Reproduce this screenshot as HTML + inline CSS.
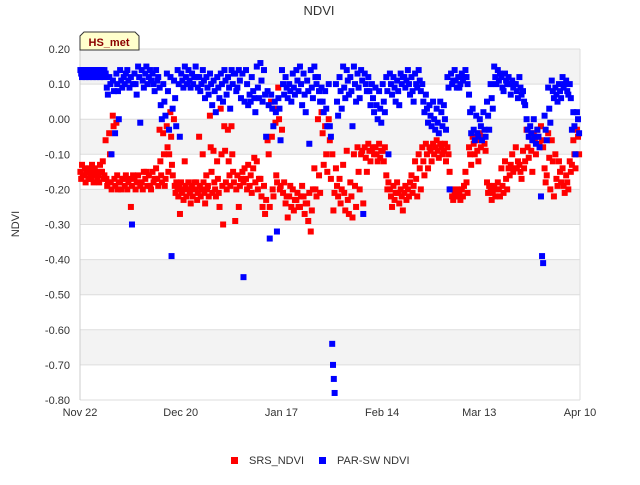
<!DOCTYPE html>
<html><head><meta charset="utf-8"><style>
body{margin:0;background:#fff;font-family:"Liberation Sans",sans-serif}
svg text{font-family:"Liberation Sans",sans-serif}
</style></head><body>
<svg id="c" width="640" height="480" xmlns="http://www.w3.org/2000/svg">
<text x="319" y="15" text-anchor="middle" font-size="13" fill="#333">NDVI</text>
<text transform="translate(19,224) rotate(-90)" text-anchor="middle" font-size="11" fill="#333">NDVI</text>
<g id="grid"></g>
<g id="pts"></g>
<g>
<path d="M84,32 L135,32 L139,36 L139,50 L80,50 L80,36 Z" fill="#ffffcc" stroke="#333" stroke-width="1"/>
<text x="109" y="46" text-anchor="middle" font-size="11" font-weight="bold" fill="#8b0000">HS_met</text>
</g>
<g>
<g><rect x="231" y="457" width="7" height="7" fill="#f00"/><text x="249" y="464" font-size="11" fill="#333">SRS_NDVI</text></g>
<g><rect x="319" y="457" width="7" height="7" fill="#00f"/><text x="337" y="464" font-size="11" fill="#333">PAR-SW NDVI</text></g>
</g>
</svg>
<script>
const yTicks=[0.2,0.1,0,-0.1,-0.2,-0.3,-0.4,-0.5,-0.6,-0.7,-0.8];
const xTickDays=[0,28,56,84,111,139];
const xTickLabels=["Nov 22","Dec 20","Jan 17","Feb 14","Mar 13","Apr 10"];
const redByDay=[
[-0.15,-0.17,-0.13,-0.16],[-0.16,-0.14,-0.18,-0.15],[-0.15,-0.17,-0.14,-0.16],[-0.17,-0.13,-0.15,-0.18],[-0.14,-0.16,-0.15,-0.17],[-0.16,-0.18,-0.13,-0.15],[-0.15,-0.12,-0.17,-0.16],
[-0.06,-0.17,-0.19,-0.18],[-0.04,-0.1,-0.18,-0.2],[0.01,-0.02,-0.17,-0.19],[-0.01,-0.16,-0.2,-0.18],[-0.18,-0.2,-0.17],[-0.17,-0.19,-0.16],[-0.2,-0.18,-0.17],
[-0.25,-0.19,-0.16],[-0.17,-0.2,-0.18],[-0.16,-0.18,-0.19],[-0.18,-0.2,-0.15],[-0.17,-0.15,-0.19],[-0.16,-0.19,-0.2],[-0.15,-0.18,-0.17],
[-0.14,-0.17,-0.19],[-0.03,-0.12,-0.16,-0.18],[-0.04,-0.1,-0.19,-0.17],[-0.02,-0.08,-0.15,-0.1],[0.02,-0.05,-0.13,-0.16],[0.0,-0.19,-0.21,-0.18],[-0.2,-0.22,-0.19,-0.27],
[-0.18,-0.21,-0.2,-0.23],[-0.12,-0.19,-0.22,-0.2],[-0.18,-0.2,-0.21,-0.24],[-0.19,-0.22,-0.2,-0.18],[-0.2,-0.18,-0.23,-0.21],[-0.05,-0.19,-0.22,-0.2],[-0.1,-0.18,-0.21,-0.24],
[-0.16,-0.2,-0.19,-0.22],[0.01,-0.08,-0.15,-0.21],[-0.09,-0.18,-0.2,-0.22],[-0.12,-0.17,-0.21,-0.25],[0.03,-0.1,-0.19,-0.3],[-0.02,-0.09,-0.18,-0.2],[-0.03,-0.12,-0.16,-0.19],
[-0.02,-0.1,-0.15,-0.18],[-0.29,-0.2,-0.16],[-0.25,-0.19,-0.17],[-0.15,-0.18,-0.14],[-0.17,-0.2,-0.13],[-0.19,-0.16,-0.21],[-0.14,-0.11,-0.18],
[-0.12,-0.2,-0.17],[-0.17,-0.22,-0.25],[-0.19,-0.27,-0.23],[-0.06,-0.1,-0.25],[0.05,-0.05,-0.2,-0.22],[0.03,-0.01,-0.16,-0.18],[0.09,0.0,-0.2,-0.19],
[-0.03,-0.21,-0.18],[-0.24,-0.22,-0.28],[-0.22,-0.19,-0.25],[-0.2,-0.26,-0.23],[-0.23,-0.21,-0.25],[-0.25,-0.22,-0.19],[-0.22,-0.27,-0.24],
[-0.24,-0.29,-0.21],[-0.32,-0.26,-0.2],[-0.14,-0.2,-0.22],[0.0,-0.16,-0.21],[0.02,-0.04,-0.13],[-0.02,-0.1,-0.15],[0.0,-0.06,-0.17],
[-0.1,-0.26,-0.21],[-0.14,-0.19,-0.22],[-0.17,-0.24,-0.2],[-0.13,-0.21,-0.26],[-0.09,-0.23,-0.27],[-0.18,-0.22,-0.28],[-0.1,-0.19,-0.25],
[-0.08,-0.15,-0.2],[-0.1,-0.09,-0.24],[-0.08,-0.11,-0.15],[-0.07,-0.09,-0.12],[-0.09,-0.08,-0.1],[-0.08,-0.1,-0.12],[-0.07,-0.11,-0.09],
[-0.09,-0.12,-0.08],[-0.16,-0.2,-0.18],[-0.2,-0.22,-0.25],[-0.19,-0.23,-0.21],[-0.18,-0.21,-0.24],[-0.2,-0.22,-0.26],[-0.21,-0.19,-0.23],
[-0.2,-0.22,-0.18],[-0.16,-0.21,-0.19],[-0.12,-0.17,-0.22],[-0.1,-0.14,-0.2],[-0.08,-0.12,-0.16],[-0.07,-0.1,-0.14],[-0.08,-0.09,-0.12],
[-0.07,-0.1,-0.08],[-0.06,-0.09,-0.11],[-0.07,-0.08,-0.1],[-0.09,-0.07,-0.12],[-0.08,-0.1,-0.15],[-0.2,-0.22,-0.23],[-0.21,-0.22,-0.2],
[-0.22,-0.21,-0.23],[-0.2,-0.22,-0.19],[-0.15,-0.18,-0.21],[-0.08,-0.1,-0.13],[-0.05,-0.07,-0.1],[-0.06,-0.09,-0.12],[-0.04,-0.08,-0.06],
[-0.05,-0.07,-0.09],[-0.18,-0.21,-0.19],[-0.2,-0.23,-0.21],[-0.19,-0.22,-0.2],[-0.18,-0.2,-0.22],[-0.14,-0.19,-0.21],[-0.12,-0.17,-0.2],
[-0.14,-0.16,-0.13],[-0.1,-0.15,-0.14],[-0.08,-0.14,-0.12],[-0.13,-0.15,-0.17],[-0.09,-0.14,-0.12],[-0.03,-0.08,-0.11],[-0.05,-0.09,-0.15],
[-0.04,-0.06,-0.1],[-0.03,-0.05,-0.07],[-0.02,-0.06,-0.08],[-0.14,-0.18,-0.16],[-0.04,-0.11,-0.2],[-0.06,-0.12,-0.22],[-0.1,-0.17,-0.19],
[-0.12,-0.15,-0.18],[-0.14,-0.19,-0.21],[-0.16,-0.18,-0.2],[-0.12,-0.15,-0.13],[-0.06,-0.1,-0.14],[-0.03,-0.05,-0.1]];
const blueByDay=[
[0.14,0.13,0.12,0.14],[0.14,0.13,0.12,0.14],[0.14,0.13,0.12,0.14],[0.14,0.13,0.12,0.14],[0.14,0.13,0.12,0.14],[0.14,0.13,0.12,0.14],[0.14,0.13,0.12,0.14],
[0.13,0.09,0.07],[0.12,0.1,-0.1],[0.11,0.08,-0.04],[0.13,0.1,0.08,0.0],[0.14,0.11,0.09],[0.12,0.1,0.13],[0.14,0.11,0.09],
[0.12,-0.3,0.1],[0.13,0.1,0.07],[0.15,0.12,-0.01],[0.14,0.11,0.09],[0.13,0.15,0.1],[0.12,0.14,0.11],[0.13,0.1,0.08],
[0.14,0.11,0.12],[0.09,0.04,0.0],[0.1,0.05,0.01],[0.13,0.08,-0.03],[0.12,-0.39,0.03],[0.11,0.06,-0.02],[0.14,0.1,-0.05],
[0.13,0.11,0.09],[0.15,0.12,0.1],[0.14,0.11,0.09],[0.13,0.1,0.12],[0.15,0.12,0.09],[0.12,0.08,0.1],[0.14,0.11,0.06],
[0.12,0.09,0.07],[0.13,0.1,0.04],[0.11,0.08,0.02],[0.12,0.09,0.06],[0.13,0.1,0.05],[0.14,0.11,0.07],[0.12,0.09,0.03],
[0.14,0.1,0.13],[0.13,0.08,0.09],[0.14,0.11,0.06],[0.13,-0.45,0.05],[0.14,0.1,0.04],[0.07,0.05,0.12],[0.08,0.06,0.02],
[0.15,0.09,0.06],[0.16,0.11,0.05],[0.14,0.07,-0.05],[0.08,0.04,-0.34],[0.07,0.03,-0.02],[0.05,0.02,-0.32],[0.06,0.03,-0.06],
[0.14,0.1,0.07],[0.12,0.09,0.06],[0.1,0.08,0.05],[0.13,0.09,0.07],[0.14,0.11,0.08],[0.15,0.1,0.04],[0.13,0.07,0.02],
[0.11,0.08,-0.07],[0.14,0.09,0.06],[0.15,0.12,0.1],[0.12,0.08,0.05],[0.09,0.05,0.02],[0.08,0.03,-0.02],[0.1,-0.02,-0.05],
[-0.64,-0.7,-0.74,-0.78],[0.1,0.05,0.01],[0.12,0.08,0.03],[0.15,0.09,0.06],[0.14,0.11,0.07],[0.12,0.08,-0.02],[0.15,0.1,0.05],
[0.13,0.09,0.06],[0.14,0.11,-0.27],[0.13,0.1,0.08],[0.12,0.08,0.04],[0.1,0.06,0.02],[0.09,0.04,0.0],[0.08,0.03,-0.01],
[0.1,0.05,0.02],[0.12,0.08,-0.1],[0.13,0.1,0.07],[0.12,0.09,0.05],[0.11,0.08,0.04],[0.13,0.1,0.12],[0.12,0.09,0.11],
[0.14,0.1,0.07],[0.12,0.08,0.05],[0.13,0.1,0.09],[0.14,0.11,0.08],[0.1,0.05,0.02],[0.07,0.03,-0.01],[0.04,0.01,-0.02],
[0.05,0.0,-0.03],[0.03,-0.01,-0.04],[0.05,0.02,-0.02],[0.04,0.0,-0.03],[0.12,0.09,-0.2],[0.13,0.1,0.11],[0.14,0.11,0.09],
[0.12,0.09,0.1],[0.13,0.11,0.12],[0.14,0.12,0.1],[0.07,0.02,-0.04],[0.03,-0.03,-0.06],[0.01,-0.04,-0.05],[0.0,-0.02,-0.06],
[0.02,-0.03,-0.05],[0.05,0.01,-0.03],[0.1,0.06,0.03],[0.15,0.12,0.1],[0.14,0.11,0.13],[0.12,0.09,0.08],[0.13,0.11,0.1],
[0.12,0.1,0.07],[0.11,0.09,0.1],[0.1,0.08,0.06],[0.12,0.09,0.07],[0.08,0.05,0.04],[0.0,-0.03,-0.05],[-0.02,-0.04,-0.06],
[0.0,-0.05,-0.07],[-0.03,-0.05,-0.08],[-0.22,-0.39,-0.41],[0.01,-0.03,-0.06],[0.09,0.03,-0.01],[0.11,0.08,0.06],[0.09,0.07,0.05],
[0.1,0.08,0.06],[0.12,0.09,0.1],[0.11,0.08,0.07],[0.1,0.06,-0.03],[0.02,-0.02,-0.1],[0.02,0.0,-0.04]];
</script>
<script>
(function(){
const NS="http://www.w3.org/2000/svg";
const L=80,R=580,T=49,B=400,yMax=0.2,yMin=-0.8,dMax=139;
const X=d=>L+(R-L)*d/dMax;
const Y=v=>T+(B-T)*(yMax-v)/(yMax-yMin);
const grid=document.getElementById('grid'),pts=document.getElementById('pts');
function mk(tag,attrs,parent){const e=document.createElementNS(NS,tag);for(const k in attrs)e.setAttribute(k,attrs[k]);parent.appendChild(e);return e;}
for(let i=0;i<yTicks.length-1;i++){
  if(i%2===0){const r=mk('rect',{x:L,y:Y(yTicks[i]),width:R-L,height:Y(yTicks[i+1])-Y(yTicks[i]),fill:'#f3f3f3'},grid);
  
  }
}
yTicks.forEach(v=>{
  const l=mk('line',{x1:L,x2:R,y1:Y(v),y2:Y(v),stroke:'#ddd','stroke-width':1},grid);
  
  
  const t=mk('text',{x:L-10,y:Y(v)+4,'text-anchor':'end','font-size':11,fill:'#333'},grid);
  t.textContent=v.toFixed(2);
  
  
});
const ax=mk('line',{x1:L,x2:L,y1:T,y2:B,stroke:'#ccc'},grid);


const ax2=mk('line',{x1:R,x2:R,y1:T,y2:B,stroke:'#ddd'},grid);


xTickDays.forEach((d,i)=>{
  const t=mk('text',{x:X(d),y:416,'text-anchor':'middle','font-size':11,fill:'#333'},grid);
  t.textContent=xTickLabels[i];
  
  
});
function series(data,color,name){
  data.forEach((vals,d)=>{vals.forEach((v,j)=>{
    const x=X(d+(j+0.5)/vals.length*0.9);
    const r=mk('rect',{x:x-3,y:Y(v)-3,width:6,height:6,fill:color},pts);
    
    
  });});
}
series(redByDay,'#f00','srs-ndvi-point');
series(blueByDay,'#00f','par-sw-ndvi-point');
})();
</script>
</body></html>
